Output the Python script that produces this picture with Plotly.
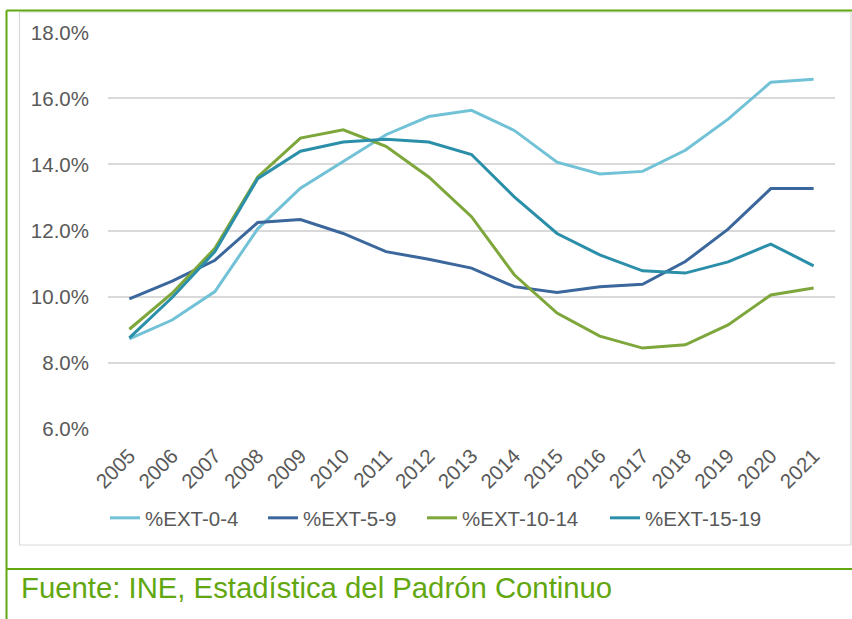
import plotly.graph_objects as go

years = [str(y) for y in range(2005, 2022)]
ext_0_4 = [8.72, 9.29, 10.15, 12.05, 13.28, 14.1, 14.9, 15.45, 15.64, 15.03, 14.07, 13.71, 13.79, 14.43, 15.37, 16.49, 16.58]
ext_5_9 = [9.93, 10.47, 11.1, 12.24, 12.33, 11.91, 11.36, 11.13, 10.86, 10.3, 10.12, 10.3, 10.37, 11.06, 12.04, 13.27, 13.27]
ext_10_14 = [9.01, 10.1, 11.46, 13.62, 14.8, 15.05, 14.55, 13.62, 12.42, 10.66, 9.5, 8.8, 8.44, 8.54, 9.14, 10.05, 10.26]
ext_15_19 = [8.75, 9.97, 11.36, 13.57, 14.4, 14.68, 14.76, 14.68, 14.3, 13.02, 11.91, 11.26, 10.78, 10.71, 11.05, 11.59, 10.93]
y_ticks = [6, 8, 10, 12, 14, 16, 18]
y_tick_labels = ["6.0%", "8.0%", "10.0%", "12.0%", "14.0%", "16.0%", "18.0%"]

series = [
    ("%EXT-0-4", ext_0_4, "#71C2D6"),
    ("%EXT-5-9", ext_5_9, "#3B679C"),
    ("%EXT-10-14", ext_10_14, "#7DA63B"),
    ("%EXT-15-19", ext_15_19, "#2B8FAA"),
]

W, H = 852, 619
L, R, T, B = 108, 17, 32, 190
PW, PH = W - L - R, H - T - B

def px(x):
    return (x - L) / PW

def py(y):
    return (H - B - y) / PH

font = "Liberation Sans, Arial, sans-serif"
green = "#62A70F"
legend_ids = ["legend", "legend2", "legend3", "legend4"]
legend_x = [105, 263, 422, 605]

fig = go.Figure()
for (name, vals, color), lid in zip(series, legend_ids):
    fig.add_trace(go.Scatter(x=years, y=vals, name=name, mode="lines", legend=lid,
                             line=dict(color=color, width=3)))

shapes = [
    dict(type="rect", xref="paper", yref="paper", x0=px(19.5), x1=px(851), y0=py(545), y1=py(12),
         line=dict(color="#D9D9D9", width=1.2), fillcolor="rgba(0,0,0,0)", layer="below"),
    dict(type="line", xref="paper", yref="paper", x0=px(6.5), x1=px(6.5), y0=py(10.5), y1=py(619),
         line=dict(color=green, width=2)),
    dict(type="line", xref="paper", yref="paper", x0=px(6.5), x1=px(852), y0=py(10.5), y1=py(10.5),
         line=dict(color=green, width=2)),
    dict(type="line", xref="paper", yref="paper", x0=px(6.5), x1=px(852), y0=py(569), y1=py(569),
         line=dict(color=green, width=2)),
]

layout_legends = {}
for lid, lx in zip(legend_ids, legend_x):
    layout_legends[lid] = dict(orientation="h", x=px(lx), y=py(518), xanchor="left", yanchor="middle",
                               font=dict(size=20.5, color="#595959"), bgcolor="rgba(0,0,0,0)")

fig.update_layout(
    width=W, height=H,
    margin=dict(l=L, r=R, t=T, b=B, pad=0),
    paper_bgcolor="white", plot_bgcolor="white",
    font=dict(family=font, size=20.5, color="#595959"),
    showlegend=True,
    shapes=shapes,
    annotations=[dict(text="Fuente: INE, Estadística del Padrón Continuo", xref="paper", yref="paper",
                      x=px(19), y=py(587), xanchor="left", yanchor="middle", showarrow=False,
                      font=dict(family=font, size=29.3, color=green))],
    **layout_legends,
)
fig.update_xaxes(type="category", range=[-0.5, 16.5], tickangle=-45, showgrid=False, showline=False,
                 ticks="", ticklabelstandoff=10, tickfont=dict(size=20.5, color="#595959"), fixedrange=True)
fig.update_yaxes(range=[5.99, 18.01], tickvals=y_ticks, ticktext=y_tick_labels, showgrid=True,
                 gridcolor="#D9D9D9", gridwidth=1.5, zeroline=False, showline=False, ticks="",
                 ticklabelstandoff=18, tickfont=dict(size=20.5, color="#595959"), fixedrange=True)

fig.write_html("out.html", config={"displayModeBar": False},
               post_script="document.body.style.margin='0px';")
